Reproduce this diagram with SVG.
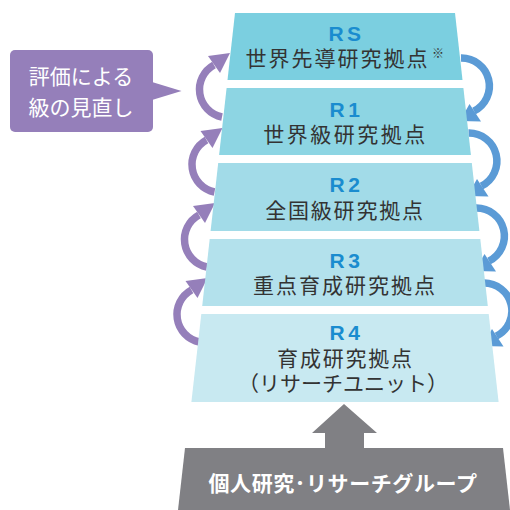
<svg xmlns="http://www.w3.org/2000/svg" width="510" height="510" viewBox="0 0 510 510">
<style>
.jp{font-family:"Noto Sans CJK JP","Noto Sans CJK SC",sans-serif;font-size:21px;fill:#333333;text-anchor:middle}
.rl{font-family:"Liberation Sans","Noto Sans",sans-serif;font-weight:bold;font-size:21px;fill:#1a8ccf;text-anchor:middle;letter-spacing:3.5px}
.wt{font-family:"Noto Sans CJK JP","Noto Sans CJK SC",sans-serif;font-size:21px;fill:#ffffff;text-anchor:middle}
.pa{fill:none;stroke:#957fba;stroke-width:7.5}
.ph{fill:#957fba}
.ba{fill:none;stroke:#5b9bd6;stroke-width:7.5}
.bh{fill:#5b9bd6}
</style>
<rect width="510" height="510" fill="#ffffff"/>
<g id="connectors">
  <g transform="translate(0,0)"><path class="pa" d="M222 117 A28 28 0 0 1 214 65"/><polygon class="ph" points="230,53 208,56 220,73"/></g>
  <g transform="translate(-7.5,75)"><path class="pa" d="M222 117 A28 28 0 0 1 214 65"/><polygon class="ph" points="230,53 208,56 220,73"/></g>
  <g transform="translate(-15,150)"><path class="pa" d="M222 117 A28 28 0 0 1 214 65"/><polygon class="ph" points="230,53 208,56 220,73"/></g>
  <g transform="translate(-22.5,225)"><path class="pa" d="M222 117 A28 28 0 0 1 214 65"/><polygon class="ph" points="230,53 208,56 220,73"/></g>
  <g transform="translate(0,0)"><path class="ba" d="M461 58 A28 28 0 0 1 474 111"/><polygon class="bh" points="460,121 469.5,104 481,121.5"/></g>
  <g transform="translate(7.5,75)"><path class="ba" d="M461 58 A28 28 0 0 1 474 111"/><polygon class="bh" points="460,121 469.5,104 481,121.5"/></g>
  <g transform="translate(15,150)"><path class="ba" d="M461 58 A28 28 0 0 1 474 111"/><polygon class="bh" points="460,121 469.5,104 481,121.5"/></g>
  <g transform="translate(22.5,225)"><path class="ba" d="M461 58 A28 28 0 0 1 474 111"/><polygon class="bh" points="460,121 469.5,104 481,121.5"/></g>
  <polygon id="up-arrow" fill="#808084" points="344,404 312,433 325,433 325,449 364,449 364,433 377,433"/>
</g>
<g id="callout">
  <rect x="10" y="50" width="143" height="82" rx="5" fill="#957fba"/>
  <polygon points="152,82 181.5,91 152,100" fill="#957fba"/>
  <text class="wt" x="81" y="84">評価による</text>
  <text class="wt" x="81" y="115">級の見直し</text>
</g>
<g id="RS">
  <polygon points="235,13 455,13 462.5,80 227.5,80" fill="#7bcfe0"/>
  <text class="rl" x="346.5" y="40.5">RS</text>
  <text class="jp" x="337.5" y="65.5" style="letter-spacing:2px">世界先導研究拠点</text>
  <text x="432" y="58" style="font-family:'Noto Sans CJK JP',sans-serif;font-size:12px;fill:#333333">※</text>
</g>
<g id="R1">
  <polygon points="226.6,88 463.4,88 470.9,155 219.1,155" fill="#8dd5e3"/>
  <text class="rl" x="346.5" y="116.5">R1</text>
  <text class="jp" x="345.5" y="141.5" style="letter-spacing:2.5px">世界級研究拠点</text>
</g>
<g id="R2">
  <polygon points="218.2,163 471.8,163 479.4,231 210.6,231" fill="#a2dbe8"/>
  <text class="rl" x="346.5" y="191.5">R2</text>
  <text class="jp" x="345" y="218" style="letter-spacing:1.8px">全国級研究拠点</text>
</g>
<g id="R3">
  <polygon points="209.7,239 480.3,239 487.8,306 202.2,306" fill="#b3e1ec"/>
  <text class="rl" x="346.5" y="267.5">R3</text>
  <text class="jp" x="345" y="292.5" style="letter-spacing:2px">重点育成研究拠点</text>
</g>
<g id="R4">
  <polygon points="201.3,314 488.7,314 498.6,402 191.4,402" fill="#c8e9f1"/>
  <text class="rl" x="346.5" y="340">R4</text>
  <text class="jp" x="345.5" y="365.5" style="letter-spacing:1.8px">育成研究拠点</text>
  <text class="jp" x="343" y="391">（リサーチユニット）</text>
</g>
<g id="base">
  <polygon points="185,448 503,448 510,510 178,510" fill="#808084"/>
  <text class="wt" x="343" y="491" style="font-weight:bold;letter-spacing:0.6px">個人研究･リサーチグループ</text>
</g>
</svg>
